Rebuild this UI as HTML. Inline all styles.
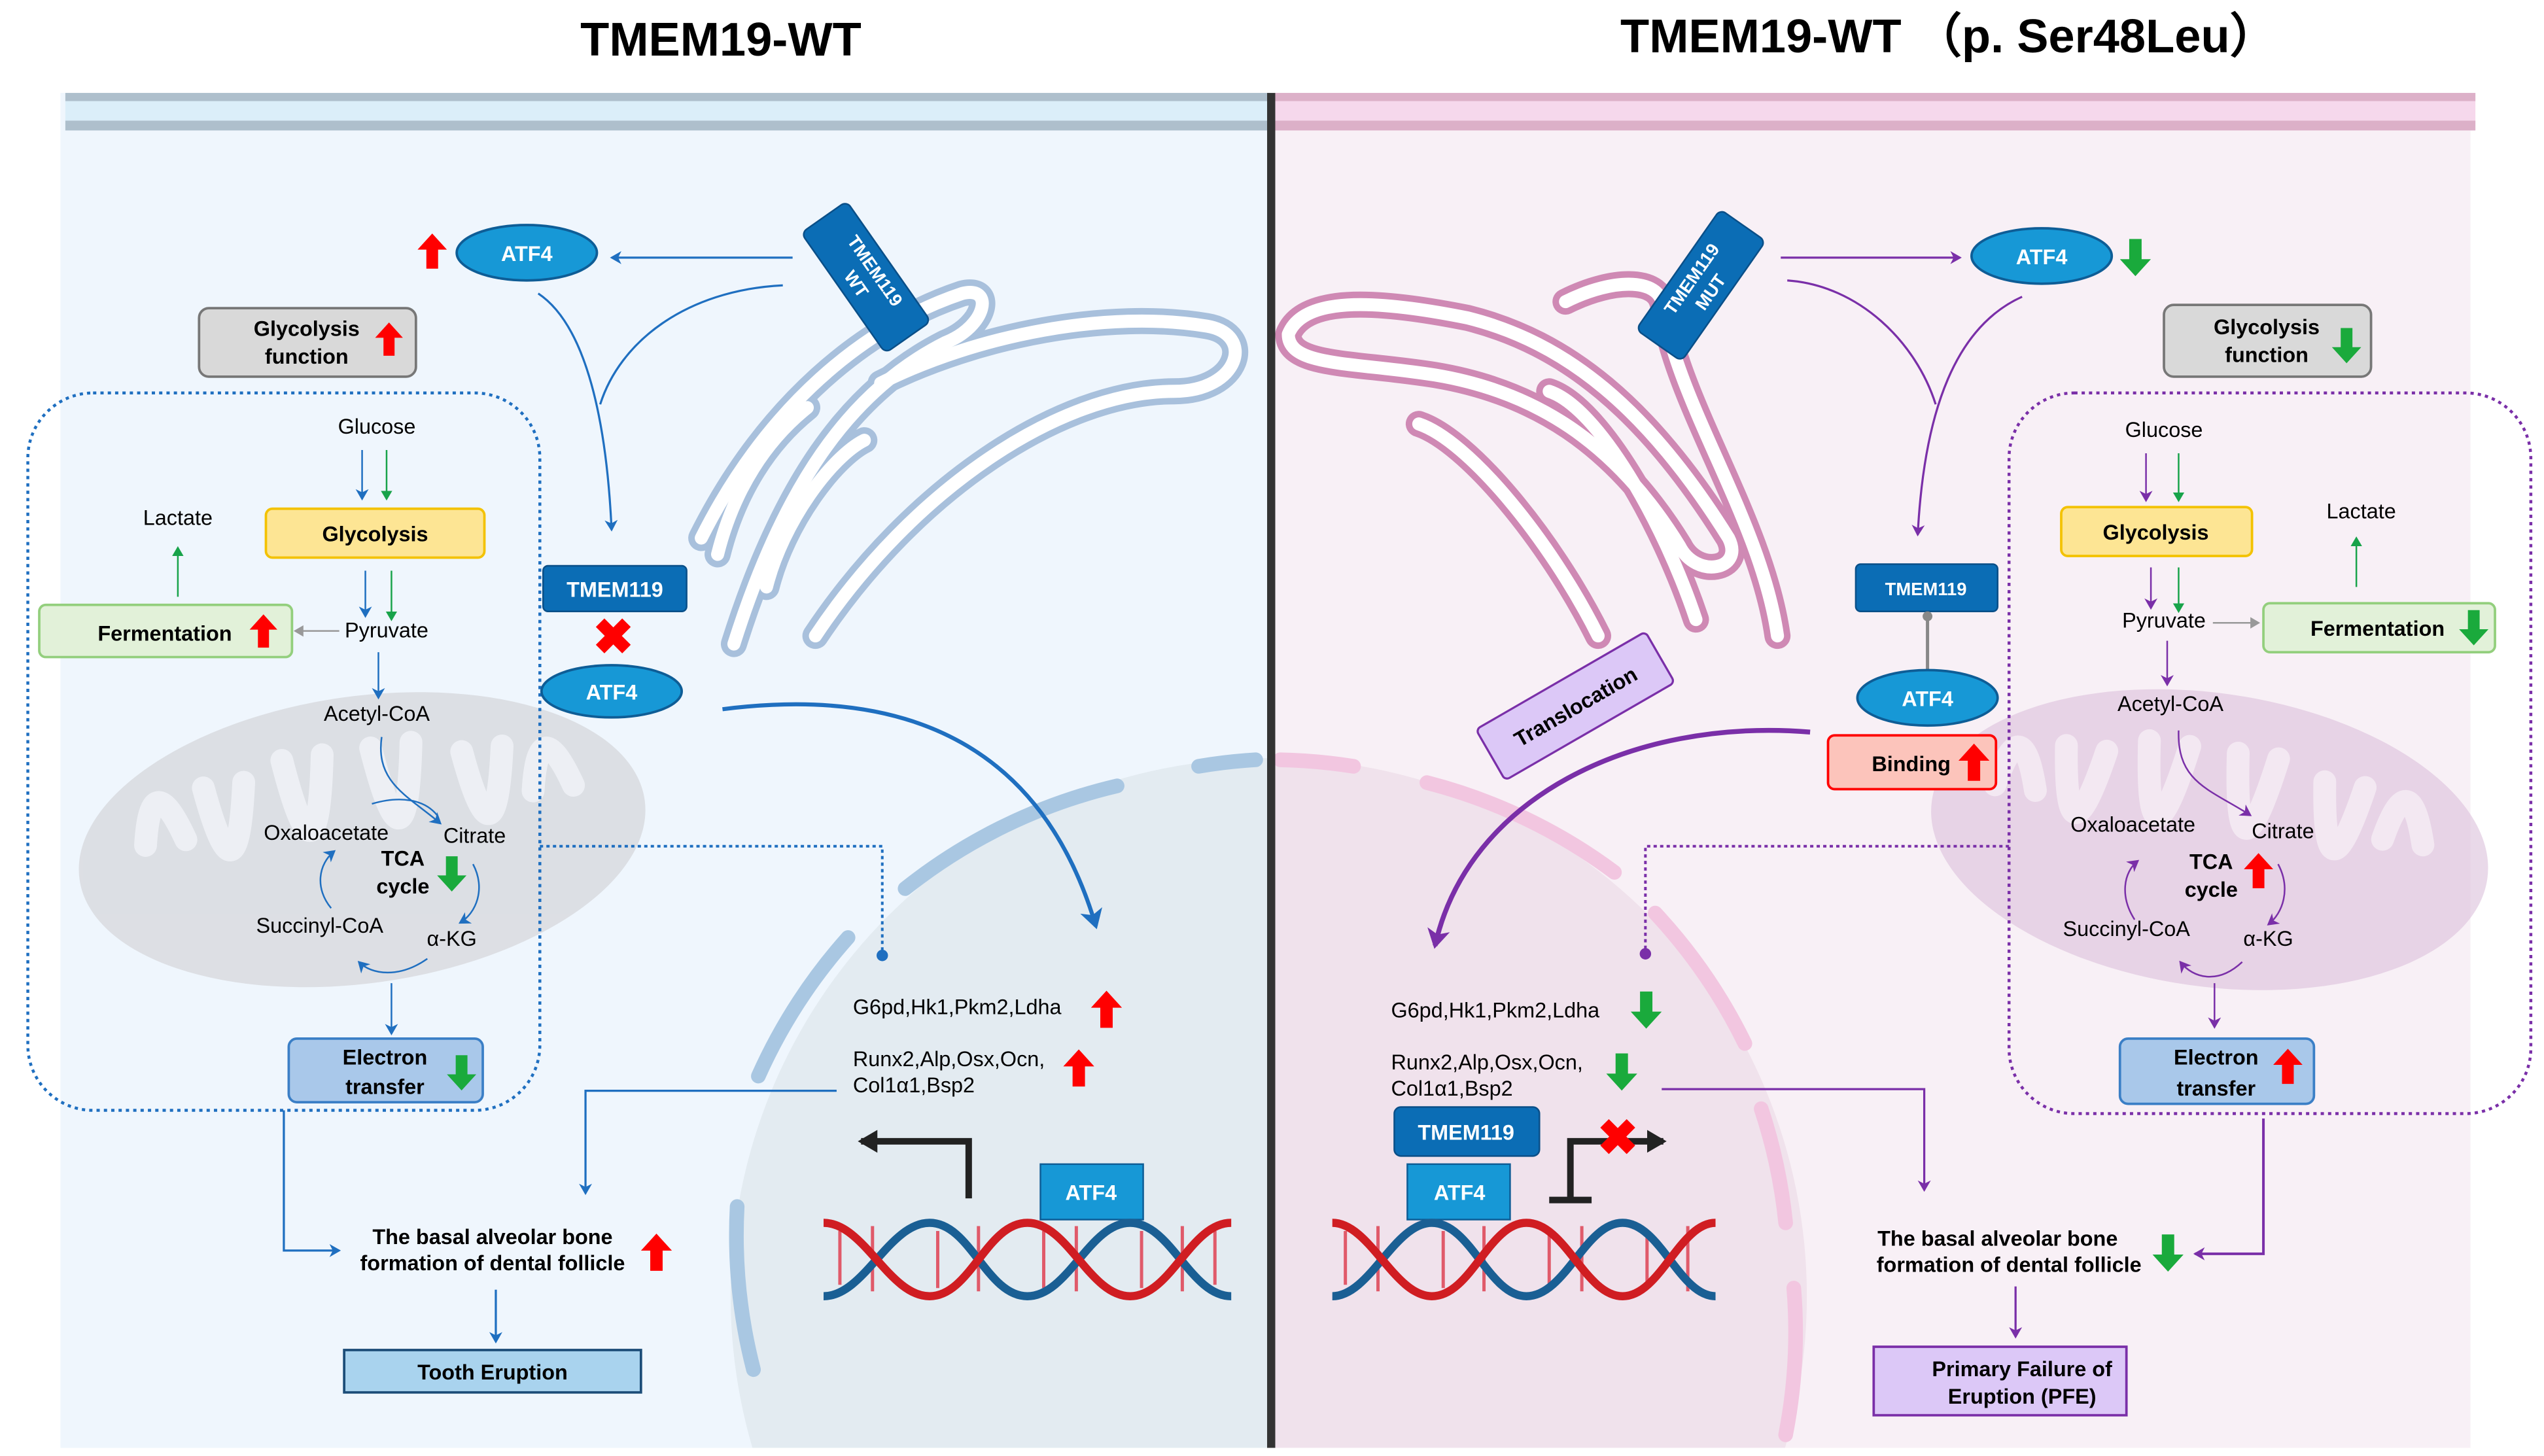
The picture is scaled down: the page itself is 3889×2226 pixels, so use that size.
<!DOCTYPE html>
<html><head><meta charset="utf-8"><style>
html,body{margin:0;padding:0;background:#fff;overflow:hidden;width:3889px;height:2226px}
svg{display:block}
text{font-family:"Liberation Sans",sans-serif}
</style></head><body>
<svg width="3889" height="2226" viewBox="0 0 1560 893" xmlns="http://www.w3.org/2000/svg">
<defs>
<marker id="ab" markerWidth="8" markerHeight="8" refX="6" refY="4" orient="auto" markerUnits="userSpaceOnUse"><path d="M0,0 L7,4 L0,8 L2,4 z" fill="#1f6fc0"/></marker>
<marker id="ap" markerWidth="8" markerHeight="8" refX="6" refY="4" orient="auto" markerUnits="userSpaceOnUse"><path d="M0,0 L7,4 L0,8 L2,4 z" fill="#7a2fa8"/></marker>
<marker id="ag" markerWidth="7" markerHeight="7" refX="5" refY="3.5" orient="auto" markerUnits="userSpaceOnUse"><path d="M0,0 L6,3.5 L0,7 z" fill="#18a34a"/></marker>
<marker id="agr" markerWidth="7" markerHeight="7" refX="5" refY="3.5" orient="auto" markerUnits="userSpaceOnUse"><path d="M0,0 L6,3.5 L0,7 z" fill="#999"/></marker>
<marker id="abk" markerWidth="14" markerHeight="14" refX="10" refY="7" orient="auto" markerUnits="userSpaceOnUse"><path d="M0,0 L12,7 L0,14 z" fill="#222"/></marker>
<marker id="abig" markerWidth="14" markerHeight="14" refX="10" refY="7" orient="auto" markerUnits="userSpaceOnUse"><path d="M0,0 L12,7 L0,14 L3,7 z" fill="#1f6fc0"/></marker>
<marker id="apbig" markerWidth="14" markerHeight="14" refX="10" refY="7" orient="auto" markerUnits="userSpaceOnUse"><path d="M0,0 L12,7 L0,14 L3,7 z" fill="#7a2fa8"/></marker>
<symbol id="up" viewBox="0 0 20 24"><path d="M10,0 L20,11 L14,11 L14,24 L6,24 L6,11 L0,11 z" fill="#f00"/></symbol>
<symbol id="dn" viewBox="0 0 20 24"><path d="M10,24 L20,13 L14,13 L14,0 L6,0 L6,13 L0,13 z" fill="#1aaa3c"/></symbol>
<clipPath id="cl"><rect x="37" y="80" width="742" height="808"/></clipPath>
<clipPath id="cr"><rect x="782" y="80" width="733" height="808"/></clipPath>
</defs>

<text x="442" y="34" font-size="29" font-weight="bold" text-anchor="middle">TMEM19-WT</text>
<text x="1195" y="32" font-size="29" font-weight="bold" text-anchor="middle">TMEM19-WT （p. Ser48Leu）</text>

<rect x="37" y="57" width="742" height="831" fill="#eff6fd"/>
<rect x="782" y="57" width="733" height="831" fill="#f8f0f6"/>
<rect x="40" y="57" width="739" height="23" fill="#dbeef9"/>
<rect x="40" y="57" width="739" height="5" fill="#aebfcc"/>
<rect x="40" y="74" width="739" height="6" fill="#aebfcc"/>
<rect x="782" y="57" width="736" height="23" fill="#f6d8ec"/>
<rect x="782" y="57" width="736" height="5" fill="#dcb0c8"/>
<rect x="782" y="74" width="736" height="6" fill="#dcb0c8"/>

<g clip-path="url(#cl)"><circle cx="778" cy="795" r="330" fill="#e3ebf1"/>
<g fill="none" stroke="#a9c7e2" stroke-width="9" stroke-linecap="round">
<path d="M735,470 A330,330 0 0 1 770,466"/>
<path d="M685,482 A330,330 0 0 0 555,545"/>
<path d="M520,575 A330,330 0 0 0 465,660"/>
<path d="M452,740 A330,330 0 0 0 462,840"/>
</g></g>
<g clip-path="url(#cr)"><circle cx="778" cy="795" r="330" fill="#f0e2ec"/>
<g fill="none" stroke="#f2c6e0" stroke-width="9" stroke-linecap="round">
<path d="M785,466 A330,330 0 0 1 830,470"/>
<path d="M875,480 A330,330 0 0 1 990,535"/>
<path d="M1015,560 A330,330 0 0 1 1070,640"/>
<path d="M1080,680 A330,330 0 0 1 1095,750"/>
<path d="M1100,790 A330,330 0 0 1 1095,880"/>
</g></g>

<g transform="rotate(-8 222 515)" opacity="0.6"><ellipse cx="222" cy="515" rx="175" ry="88" fill="#d0d0d4"/>
<g stroke="#ececef" stroke-width="14" fill="none" stroke-linecap="round">
<path d="M90,500 q10,-50 25,0"/><path d="M130,470 q10,80 25,0"/><path d="M180,460 q10,90 25,0"/><path d="M235,460 q10,90 25,0"/><path d="M290,470 q10,80 25,0"/><path d="M330,500 q10,-50 25,0"/></g></g>
<g transform="rotate(8 1355 515)" opacity="0.6"><ellipse cx="1355" cy="515" rx="172" ry="90" fill="#dcc0dc"/>
<g stroke="#f1e4f0" stroke-width="14" fill="none" stroke-linecap="round">
<path d="M1220,500 q10,-50 25,0"/><path d="M1260,470 q10,80 25,0"/><path d="M1310,460 q10,90 25,0"/><path d="M1365,460 q10,90 25,0"/><path d="M1420,470 q10,80 25,0"/><path d="M1460,500 q10,-50 25,0"/></g></g>

<g fill="none" stroke-linecap="round" stroke-linejoin="round">
<g stroke="#a8c0dc" stroke-width="16">
<path d="M430,330 C470,250 530,200 590,180 C610,175 605,200 580,210 C520,240 480,300 450,395"/>
<path d="M540,235 C600,205 680,190 740,200 C770,205 760,240 720,240 C650,240 560,300 500,390"/>
<path d="M470,360 C480,320 510,280 530,270"/>
<path d="M440,340 C450,300 470,270 495,250"/>
</g>
<g stroke="#ffffff" stroke-width="8">
<path d="M430,330 C470,250 530,200 590,180 C610,175 605,200 580,210 C520,240 480,300 450,395"/>
<path d="M540,235 C600,205 680,190 740,200 C770,205 760,240 720,240 C650,240 560,300 500,390"/>
<path d="M470,360 C480,320 510,280 530,270"/>
<path d="M440,340 C450,300 470,270 495,250"/>
</g>
<g stroke="#cf89b4" stroke-width="16">
<path d="M790,205 C800,180 850,185 900,195 C960,210 1010,250 1060,330 C1070,350 1040,355 1030,335 C990,270 940,240 880,230 C830,222 790,225 790,205"/>
<path d="M960,185 C990,170 1020,170 1020,190 C1030,250 1080,320 1090,390"/>
<path d="M870,260 C900,270 950,330 980,390"/>
<path d="M950,240 C980,250 1020,320 1040,380"/>
</g>
<g stroke="#ffffff" stroke-width="8">
<path d="M790,205 C800,180 850,185 900,195 C960,210 1010,250 1060,330 C1070,350 1040,355 1030,335 C990,270 940,240 880,230 C830,222 790,225 790,205"/>
<path d="M960,185 C990,170 1020,170 1020,190 C1030,250 1080,320 1090,390"/>
<path d="M870,260 C900,270 950,330 980,390"/>
<path d="M950,240 C980,250 1020,320 1040,380"/>
</g></g>

<rect x="777" y="57" width="5" height="831" fill="#333"/>

<g transform="rotate(55 531 170)"><rect x="486" y="153" width="90" height="34" rx="4" fill="#0b6db5" stroke="#0a4f88"/>
<text x="531" y="167" font-size="11" font-weight="bold" fill="#fff" text-anchor="middle">TMEM119</text>
<text x="531" y="181" font-size="11" font-weight="bold" fill="#fff" text-anchor="middle">WT</text></g>
<ellipse cx="323" cy="155" rx="43" ry="17" fill="#1798d6" stroke="#0e5d96" stroke-width="1.5"/>
<text x="323" y="160" font-size="13" font-weight="bold" fill="#fff" text-anchor="middle">ATF4</text>
<use href="#up" x="256" y="143" width="18" height="22"/>
<line x1="486" y1="158" x2="375" y2="158" stroke="#1f6fc0" stroke-width="1.3" marker-end="url(#ab)"/>
<path d="M330,180 C360,200 372,260 375,325" stroke="#1f6fc0" stroke-width="1.3" fill="none" marker-end="url(#ab)"/>
<path d="M480,175 C420,178 380,210 368,248" stroke="#1f6fc0" stroke-width="1.3" fill="none"/>

<rect x="122" y="189" width="133" height="42" rx="6" fill="#d9d9d9" stroke="#777" stroke-width="1.5"/>
<text x="188" y="206" font-size="13" font-weight="bold" text-anchor="middle">Glycolysis</text>
<text x="188" y="223" font-size="13" font-weight="bold" text-anchor="middle">function</text>
<use href="#up" x="230" y="197" width="17" height="22"/>

<rect x="17" y="241" width="314" height="440" rx="40" fill="none" stroke="#1f6fc0" stroke-width="1.8" stroke-dasharray="2,2.5"/>
<text x="231" y="266" font-size="13" text-anchor="middle">Glucose</text>
<line x1="222" y1="276" x2="222" y2="306" stroke="#1f6fc0" marker-end="url(#ab)"/>
<line x1="237" y1="276" x2="237" y2="306" stroke="#18a34a" marker-end="url(#ag)"/>
<rect x="163" y="312" width="134" height="30" rx="4" fill="#fde594" stroke="#f3c200" stroke-width="1.5"/>
<text x="230" y="332" font-size="13" font-weight="bold" text-anchor="middle">Glycolysis</text>
<text x="109" y="322" font-size="13" text-anchor="middle">Lactate</text>
<line x1="109" y1="366" x2="109" y2="336" stroke="#18a34a" marker-end="url(#ag)"/>
<line x1="224" y1="350" x2="224" y2="378" stroke="#1f6fc0" marker-end="url(#ab)"/>
<line x1="240" y1="350" x2="240" y2="380" stroke="#18a34a" marker-end="url(#ag)"/>
<rect x="24" y="371" width="155" height="32" rx="4" fill="#e2f1d9" stroke="#93cf7d" stroke-width="1.5"/>
<text x="101" y="393" font-size="13" font-weight="bold" text-anchor="middle">Fermentation</text>
<use href="#up" x="153" y="375" width="17" height="24"/>
<line x1="208" y1="387" x2="181" y2="387" stroke="#999" marker-end="url(#agr)"/>
<text x="237" y="391" font-size="13" text-anchor="middle">Pyruvate</text>
<line x1="232" y1="400" x2="232" y2="428" stroke="#1f6fc0" marker-end="url(#ab)"/>
<text x="231" y="442" font-size="13" text-anchor="middle">Acetyl-CoA</text>
<path d="M234,452 C230,480 250,488 270,505" stroke="#1f6fc0" fill="none" marker-end="url(#ab)"/>
<text x="200" y="515" font-size="13" text-anchor="middle">Oxaloacetate</text>
<text x="291" y="517" font-size="13" text-anchor="middle">Citrate</text>
<text x="247" y="531" font-size="13" font-weight="bold" text-anchor="middle">TCA</text>
<text x="247" y="548" font-size="13" font-weight="bold" text-anchor="middle">cycle</text>
<use href="#dn" x="268" y="524" width="18" height="24"/>
<text x="196" y="572" font-size="13" text-anchor="middle">Succinyl-CoA</text>
<text x="277" y="580" font-size="13" text-anchor="middle">α-KG</text>
<path d="M228,493 C245,488 260,490 268,500" stroke="#1f6fc0" fill="none"/>
<path d="M203,557 C193,545 195,530 205,522" stroke="#1f6fc0" fill="none" marker-end="url(#ab)"/>
<path d="M290,530 C298,545 292,560 282,566" stroke="#1f6fc0" fill="none" marker-end="url(#ab)"/>
<path d="M262,588 C245,600 228,598 220,590" stroke="#1f6fc0" fill="none" marker-end="url(#ab)"/>
<line x1="240" y1="603" x2="240" y2="634" stroke="#1f6fc0" marker-end="url(#ab)"/>
<rect x="177" y="637" width="119" height="39" rx="5" fill="#a9c8ea" stroke="#3b7fc6" stroke-width="1.5"/>
<text x="236" y="653" font-size="13" font-weight="bold" text-anchor="middle">Electron</text>
<text x="236" y="671" font-size="13" font-weight="bold" text-anchor="middle">transfer</text>
<use href="#dn" x="274" y="646" width="18" height="24"/>

<rect x="333" y="347" width="88" height="28" rx="3" fill="#0b6db5" stroke="#0a4f88"/>
<text x="377" y="366" font-size="13" font-weight="bold" fill="#fff" text-anchor="middle">TMEM119</text>
<text x="376" y="401" font-size="30" font-weight="bold" fill="#f00" text-anchor="middle">✖</text>
<ellipse cx="375" cy="424" rx="43" ry="16" fill="#1798d6" stroke="#0e5d96" stroke-width="1.5"/>
<text x="375" y="429" font-size="13" font-weight="bold" fill="#fff" text-anchor="middle">ATF4</text>
<path d="M443,435 C560,420 640,460 672,568" stroke="#1f6fc0" stroke-width="2.5" fill="none" marker-end="url(#abig)"/>
<path d="M331,519 L541,519 L541,585" stroke="#1f6fc0" stroke-width="1.6" stroke-dasharray="2,2" fill="none"/>
<circle cx="541" cy="586" r="3.5" fill="#1f6fc0"/>

<text x="523" y="622" font-size="13">G6pd,Hk1,Pkm2,Ldha</text>
<use href="#up" x="669" y="607" width="19" height="24"/>
<text x="523" y="654" font-size="13">Runx2,Alp,Osx,Ocn,</text>
<text x="523" y="670" font-size="13">Col1α1,Bsp2</text>
<use href="#up" x="652" y="643" width="19" height="24"/>
<path d="M513,669 L359,669 L359,732" stroke="#1f6fc0" stroke-width="1.3" fill="none" marker-end="url(#ab)"/>
<path d="M594,735 L594,700 L528,700" stroke="#222" stroke-width="4" fill="none" marker-end="url(#abk)"/>
<rect x="638" y="714" width="63" height="34" fill="#1798d6" stroke="#0e5d96"/>
<text x="669" y="736" font-size="13" font-weight="bold" fill="#fff" text-anchor="middle">ATF4</text>
<g fill="none" stroke-width="5">
<g stroke="#e05a6a" stroke-width="2"><line x1="515" y1="755" x2="515" y2="788"/><line x1="535" y1="752" x2="535" y2="792"/><line x1="575" y1="755" x2="575" y2="790"/><line x1="600" y1="752" x2="600" y2="792"/><line x1="640" y1="755" x2="640" y2="790"/><line x1="660" y1="752" x2="660" y2="792"/><line x1="700" y1="755" x2="700" y2="790"/><line x1="725" y1="752" x2="725" y2="792"/><line x1="745" y1="755" x2="745" y2="788"/></g>
<path d="M505,795 C530,795 545,750 570,750 C595,750 605,795 630,795 C655,795 668,750 693,750 C718,750 730,795 755,795" stroke="#1a5f94"/>
<path d="M505,750 C530,750 545,795 570,795 C595,795 605,750 630,750 C655,750 668,795 693,795 C718,795 730,750 755,750" stroke="#d01d22"/>
</g>

<text x="302" y="763" font-size="13" font-weight="bold" text-anchor="middle">The basal alveolar bone</text>
<text x="302" y="779" font-size="13" font-weight="bold" text-anchor="middle">formation of dental follicle</text>
<use href="#up" x="393" y="756" width="19" height="24"/>
<path d="M174,681 L174,767 L208,767" stroke="#1f6fc0" stroke-width="1.3" fill="none" marker-end="url(#ab)"/>
<line x1="304" y1="791" x2="304" y2="823" stroke="#1f6fc0" stroke-width="1.3" marker-end="url(#ab)"/>
<rect x="211" y="828" width="182" height="26" fill="#a9d3ee" stroke="#1c4d78" stroke-width="1.5"/>
<text x="302" y="846" font-size="13" font-weight="bold" text-anchor="middle">Tooth Eruption</text>

<g transform="rotate(-55 1043 175)"><rect x="998" y="158" width="90" height="34" rx="4" fill="#0b6db5" stroke="#0a4f88"/>
<text x="1043" y="172" font-size="11" font-weight="bold" fill="#fff" text-anchor="middle">TMEM119</text>
<text x="1043" y="186" font-size="11" font-weight="bold" fill="#fff" text-anchor="middle">MUT</text></g>
<line x1="1092" y1="158" x2="1202" y2="158" stroke="#7a2fa8" stroke-width="1.3" marker-end="url(#ap)"/>
<ellipse cx="1252" cy="157" rx="43" ry="17" fill="#1798d6" stroke="#0e5d96" stroke-width="1.5"/>
<text x="1252" y="162" font-size="13" font-weight="bold" fill="#fff" text-anchor="middle">ATF4</text>
<use href="#dn" x="1300" y="146" width="19" height="24"/>
<path d="M1096,172 C1140,175 1175,210 1187,248" stroke="#7a2fa8" stroke-width="1.3" fill="none"/>
<path d="M1240,182 C1200,200 1180,250 1176,328" stroke="#7a2fa8" stroke-width="1.3" fill="none" marker-end="url(#ap)"/>

<rect x="1327" y="187" width="127" height="44" rx="6" fill="#d9d9d9" stroke="#777" stroke-width="1.5"/>
<text x="1390" y="205" font-size="13" font-weight="bold" text-anchor="middle">Glycolysis</text>
<text x="1390" y="222" font-size="13" font-weight="bold" text-anchor="middle">function</text>
<use href="#dn" x="1430" y="200" width="18" height="24"/>

<rect x="1232" y="241" width="320" height="442" rx="40" fill="none" stroke="#7a2fa8" stroke-width="1.8" stroke-dasharray="2,2.5"/>
<text x="1327" y="268" font-size="13" text-anchor="middle">Glucose</text>
<line x1="1316" y1="278" x2="1316" y2="307" stroke="#7a2fa8" marker-end="url(#ap)"/>
<line x1="1336" y1="278" x2="1336" y2="307" stroke="#18a34a" marker-end="url(#ag)"/>
<rect x="1264" y="311" width="117" height="30" rx="4" fill="#fde594" stroke="#f3c200" stroke-width="1.5"/>
<text x="1322" y="331" font-size="13" font-weight="bold" text-anchor="middle">Glycolysis</text>
<text x="1448" y="318" font-size="13" text-anchor="middle">Lactate</text>
<line x1="1445" y1="360" x2="1445" y2="330" stroke="#18a34a" marker-end="url(#ag)"/>
<line x1="1319" y1="348" x2="1319" y2="373" stroke="#7a2fa8" marker-end="url(#ap)"/>
<line x1="1336" y1="348" x2="1336" y2="375" stroke="#18a34a" marker-end="url(#ag)"/>
<text x="1327" y="385" font-size="13" text-anchor="middle">Pyruvate</text>
<line x1="1357" y1="382" x2="1385" y2="382" stroke="#999" marker-end="url(#agr)"/>
<rect x="1388" y="370" width="142" height="30" rx="4" fill="#e2f1d9" stroke="#93cf7d" stroke-width="1.5"/>
<text x="1458" y="390" font-size="13" font-weight="bold" text-anchor="middle">Fermentation</text>
<use href="#dn" x="1508" y="373" width="18" height="24"/>
<line x1="1329" y1="393" x2="1329" y2="420" stroke="#7a2fa8" marker-end="url(#ap)"/>
<text x="1331" y="436" font-size="13" text-anchor="middle">Acetyl-CoA</text>
<path d="M1336,448 C1335,480 1355,484 1380,500" stroke="#7a2fa8" fill="none" marker-end="url(#ap)"/>
<text x="1308" y="510" font-size="13" text-anchor="middle">Oxaloacetate</text>
<text x="1400" y="514" font-size="13" text-anchor="middle">Citrate</text>
<text x="1356" y="533" font-size="13" font-weight="bold" text-anchor="middle">TCA</text>
<text x="1356" y="550" font-size="13" font-weight="bold" text-anchor="middle">cycle</text>
<use href="#up" x="1376" y="522" width="18" height="24"/>
<text x="1304" y="574" font-size="13" text-anchor="middle">Succinyl-CoA</text>
<text x="1391" y="580" font-size="13" text-anchor="middle">α-KG</text>
<path d="M1309,564 C1300,550 1302,535 1311,528" stroke="#7a2fa8" fill="none" marker-end="url(#ap)"/>
<path d="M1397,530 C1405,545 1400,560 1391,567" stroke="#7a2fa8" fill="none" marker-end="url(#ap)"/>
<path d="M1375,590 C1360,604 1345,600 1337,590" stroke="#7a2fa8" fill="none" marker-end="url(#ap)"/>
<line x1="1358" y1="603" x2="1358" y2="630" stroke="#7a2fa8" marker-end="url(#ap)"/>
<rect x="1300" y="637" width="119" height="40" rx="5" fill="#a9c8ea" stroke="#3b7fc6" stroke-width="1.5"/>
<text x="1359" y="653" font-size="13" font-weight="bold" text-anchor="middle">Electron</text>
<text x="1359" y="672" font-size="13" font-weight="bold" text-anchor="middle">transfer</text>
<use href="#up" x="1394" y="642" width="18" height="24"/>

<rect x="1138" y="346" width="87" height="29" rx="3" fill="#0b6db5" stroke="#0a4f88"/>
<text x="1181" y="365" font-size="11" font-weight="bold" fill="#fff" text-anchor="middle">TMEM119</text>
<line x1="1182" y1="377" x2="1182" y2="411" stroke="#888" stroke-width="2"/>
<circle cx="1182" cy="378" r="3" fill="#888"/>
<ellipse cx="1182" cy="428" rx="43" ry="17" fill="#1798d6" stroke="#0e5d96" stroke-width="1.5"/>
<text x="1182" y="433" font-size="13" font-weight="bold" fill="#fff" text-anchor="middle">ATF4</text>
<rect x="1121" y="451" width="103" height="33" rx="4" fill="#fcc4bb" stroke="#f00" stroke-width="1.5"/>
<text x="1172" y="473" font-size="13" font-weight="bold" text-anchor="middle">Binding</text>
<use href="#up" x="1201" y="455" width="19" height="25"/>
<g transform="rotate(-30 966 433)"><rect x="906" y="415" width="120" height="36" rx="3" fill="#dcc8f7" stroke="#7a2fa8" stroke-width="1.3"/>
<text x="966" y="438" font-size="13" font-weight="bold" text-anchor="middle">Translocation</text></g>
<path d="M1110,449 C1000,440 900,490 880,580" stroke="#7a2fa8" stroke-width="3" fill="none" marker-end="url(#apbig)"/>
<path d="M1232,519 L1009,519 L1009,583" stroke="#7a2fa8" stroke-width="1.6" stroke-dasharray="2,2" fill="none"/>
<circle cx="1009" cy="585" r="3.5" fill="#7a2fa8"/>

<text x="853" y="624" font-size="13">G6pd,Hk1,Pkm2,Ldha</text>
<use href="#dn" x="1000" y="607" width="19" height="25"/>
<text x="853" y="656" font-size="13">Runx2,Alp,Osx,Ocn,</text>
<text x="853" y="672" font-size="13">Col1α1,Bsp2</text>
<use href="#dn" x="985" y="645" width="19" height="25"/>
<path d="M1019,668 L1180,668 L1180,730" stroke="#7a2fa8" stroke-width="1.3" fill="none" marker-end="url(#ap)"/>
<rect x="855" y="679" width="89" height="30" rx="4" fill="#0b6db5" stroke="#0a4f88"/>
<text x="899" y="699" font-size="13" font-weight="bold" fill="#fff" text-anchor="middle">TMEM119</text>
<rect x="863" y="714" width="63" height="34" fill="#1798d6" stroke="#0e5d96"/>
<text x="895" y="736" font-size="13" font-weight="bold" fill="#fff" text-anchor="middle">ATF4</text>
<path d="M963,735 L963,700 L1020,700" stroke="#222" stroke-width="4" fill="none" marker-end="url(#abk)"/>
<line x1="950" y1="736" x2="976" y2="736" stroke="#222" stroke-width="4"/>
<text x="992" y="708" font-size="30" font-weight="bold" fill="#f00" text-anchor="middle">✖</text>
<g fill="none" stroke-width="5">
<g stroke="#e05a6a" stroke-width="2"><line x1="825" y1="755" x2="825" y2="788"/><line x1="845" y1="752" x2="845" y2="792"/><line x1="885" y1="755" x2="885" y2="790"/><line x1="910" y1="752" x2="910" y2="792"/><line x1="950" y1="755" x2="950" y2="790"/><line x1="970" y1="752" x2="970" y2="792"/><line x1="1010" y1="755" x2="1010" y2="790"/><line x1="1035" y1="752" x2="1035" y2="792"/></g>
<path d="M817,795 C840,795 855,750 878,750 C902,750 913,795 936,795 C960,795 972,750 995,750 C1018,750 1030,795 1052,795" stroke="#1a5f94"/>
<path d="M817,750 C840,750 855,795 878,795 C902,795 913,750 936,750 C960,750 972,795 995,795 C1018,795 1030,750 1052,750" stroke="#d01d22"/>
</g>

<text x="1225" y="764" font-size="13" font-weight="bold" text-anchor="middle">The basal alveolar bone</text>
<text x="1232" y="780" font-size="13" font-weight="bold" text-anchor="middle">formation of dental follicle</text>
<use href="#dn" x="1320" y="756" width="19" height="25"/>
<path d="M1388,686 L1388,769 L1346,769" stroke="#7a2fa8" stroke-width="1.6" fill="none" marker-end="url(#ap)"/>
<line x1="1236" y1="789" x2="1236" y2="820" stroke="#7a2fa8" stroke-width="1.3" marker-end="url(#ap)"/>
<rect x="1149" y="826" width="155" height="42" fill="#dcc8f7" stroke="#7a2fa8" stroke-width="1.5"/>
<text x="1240" y="844" font-size="13" font-weight="bold" text-anchor="middle">Primary Failure of</text>
<text x="1240" y="861" font-size="13" font-weight="bold" text-anchor="middle">Eruption (PFE)</text>
</svg>
</body></html>
